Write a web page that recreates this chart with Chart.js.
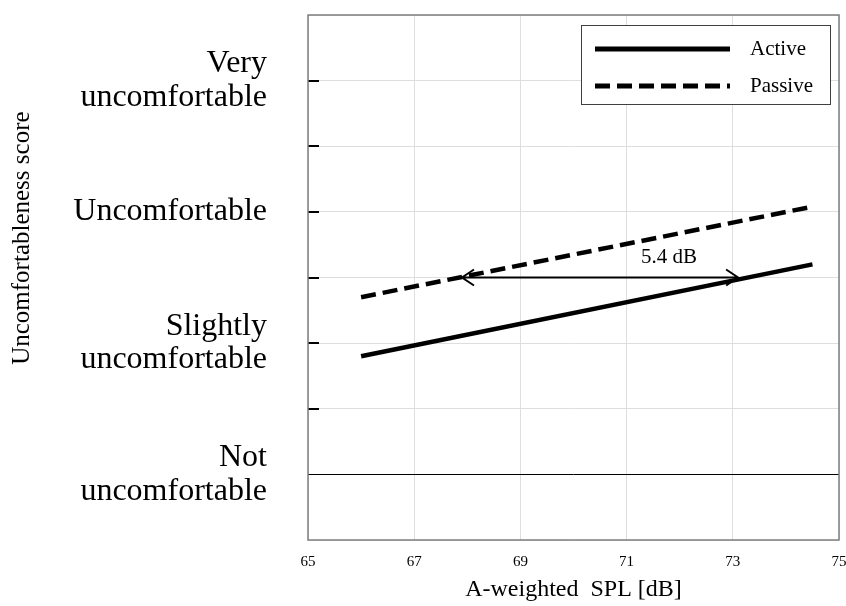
<!DOCTYPE html>
<html>
<head>
<meta charset="utf-8">
<script src="https://cdn.jsdelivr.net/npm/chart.js@4"></script>
<style>
  html, body { margin: 0; padding: 0; background: #fff; }
  #wrap { width: 846px; height: 606px; }
</style>
</head>
<body>
<div id="wrap"><canvas id="c" width="846" height="606"></canvas></div>
<script>
// data
const splX = [66, 74.5];
const activeScore = [0.90, 1.60];
const passiveScore = [1.35, 2.04];

const scoreValues = [0, 1, 2, 3];
const scoreLabels = [
  ['Not', 'uncomfortable'],
  ['Slightly', 'uncomfortable'],
  ['Uncomfortable'],
  ['Very', 'uncomfortable'],
];

const seriesNames = ['Active', 'Passive'];
const yTitle = 'Uncomfortableness score';

// 5.4 dB arrow between the two lines
const arrowX = [67.9, 73.1];
const arrowY = 1.5;
const arrowText = '5.4 dB';
const arrowTextAt = [71.8, 1.65];

const SERIF = "'Liberation Serif', 'Times New Roman', serif";
const DASH = [15, 7];

const pts = (ys) => splX.map((x, i) => ({ x, y: ys[i] }));

const extras = {
  id: 'extras',
  afterDatasetsDraw(chart) {
    const { ctx, chartArea: a, scales: { x, y } } = chart;
    ctx.save();

    // short inward tick marks on the left axis
    ctx.strokeStyle = '#000';
    ctx.lineWidth = 2;
    y.ticks.forEach(t => {
      if (t.value <= 0 || t.value >= y.max) return;
      const py = Math.round(y.getPixelForValue(t.value));
      ctx.beginPath();
      ctx.moveTo(a.left, py);
      ctx.lineTo(a.left + 11, py);
      ctx.stroke();
    });

    // frame
    ctx.strokeStyle = '#7f7f7f';
    ctx.lineWidth = 1.5;
    ctx.strokeRect(a.left, a.top, a.right - a.left, a.bottom - a.top);

    // arrow
    const x1 = x.getPixelForValue(arrowX[0]);
    const x2 = x.getPixelForValue(arrowX[1]);
    const ay = y.getPixelForValue(arrowY);
    ctx.strokeStyle = '#000';
    ctx.lineWidth = 2;
    ctx.beginPath();
    ctx.moveTo(x1, ay); ctx.lineTo(x2, ay);
    ctx.moveTo(x1 + 12, ay - 8); ctx.lineTo(x1, ay); ctx.lineTo(x1 + 12, ay + 8);
    ctx.moveTo(x2 - 12, ay - 8); ctx.lineTo(x2, ay); ctx.lineTo(x2 - 12, ay + 8);
    ctx.stroke();

    ctx.fillStyle = '#000';
    ctx.font = '21px ' + SERIF;
    ctx.textAlign = 'center';
    ctx.textBaseline = 'middle';
    ctx.fillText(arrowText, x.getPixelForValue(arrowTextAt[0]), y.getPixelForValue(arrowTextAt[1]));

    // y-axis title, sitting a little above the middle as in the original
    ctx.save();
    ctx.translate(22, y.getPixelForValue(1.8));
    ctx.rotate(-Math.PI / 2);
    ctx.font = '25px ' + SERIF;
    ctx.fillText(yTitle, 0, 0);
    ctx.restore();

    // legend box
    const bw = 249, bh = 79;
    const bx = a.right - 9 - bw, by = a.top + 10;
    ctx.fillStyle = '#fff';
    ctx.fillRect(bx, by, bw, bh);
    ctx.strokeStyle = '#404040';
    ctx.lineWidth = 1;
    ctx.strokeRect(bx + 0.5, by + 0.5, bw, bh);
    ctx.strokeStyle = '#000';
    ctx.lineWidth = 5;
    ctx.font = '21px ' + SERIF;
    ctx.textAlign = 'left';
    [24, 61].forEach((dy, i) => {
      ctx.setLineDash(i === 1 ? DASH : []);
      ctx.beginPath();
      ctx.moveTo(bx + 14, by + dy);
      ctx.lineTo(bx + 149, by + dy);
      ctx.stroke();
      ctx.fillStyle = '#000';
      ctx.fillText(seriesNames[i], bx + 169, by + dy);
    });
    ctx.restore();
  },
};

new Chart(document.getElementById('c'), {
  type: 'scatter',
  data: {
    datasets: [
      { label: seriesNames[0], data: pts(activeScore), showLine: true, borderColor: '#000', borderWidth: 4.5, pointRadius: 0 },
      { label: seriesNames[1], data: pts(passiveScore), showLine: true, borderColor: '#000', borderWidth: 4.5, borderDash: DASH, pointRadius: 0 },
    ],
  },
  options: {
    responsive: false,
    animation: false,
    layout: { padding: { top: 15, right: 7, left: 0, bottom: 0 } },
    plugins: { legend: { display: false }, tooltip: { enabled: false } },
    scales: {
      x: {
        type: 'linear',
        min: 65, max: 75,
        afterFit: (s) => { s.height = 66; s.paddingLeft = 0; s.paddingRight = 0; },
        grid: { color: '#dedede', lineWidth: 1, drawTicks: false },
        border: { display: false },
        ticks: { stepSize: 2, color: '#000', padding: 13, font: { family: SERIF, size: 15 } },
        title: { display: true, text: 'A-weighted  SPL [dB]', color: '#000', padding: { top: 0, bottom: 2 }, font: { family: SERIF, size: 24 } },
      },
      y: {
        min: -0.5, max: 3.5,
        afterFit: (s) => { s.width = 308; s.paddingTop = 0; s.paddingBottom = 0; },
        grid: {
          drawTicks: false,
          lineWidth: 1,
          color: (c) => (c.tick && c.tick.value === 0 ? '#000' : '#dedede'),
        },
        border: { display: false },
        ticks: {
          stepSize: 0.5,
          autoSkip: false,
          color: '#000',
          padding: 41,
          font: { family: SERIF, size: 32, lineHeight: 1.05 },
          callback: (v) => {
            const i = scoreValues.indexOf(v);
            return i >= 0 ? scoreLabels[i] : '';
          },
        },
        title: { display: false },
      },
    },
  },
  plugins: [extras],
});
</script>
</body>
</html>
